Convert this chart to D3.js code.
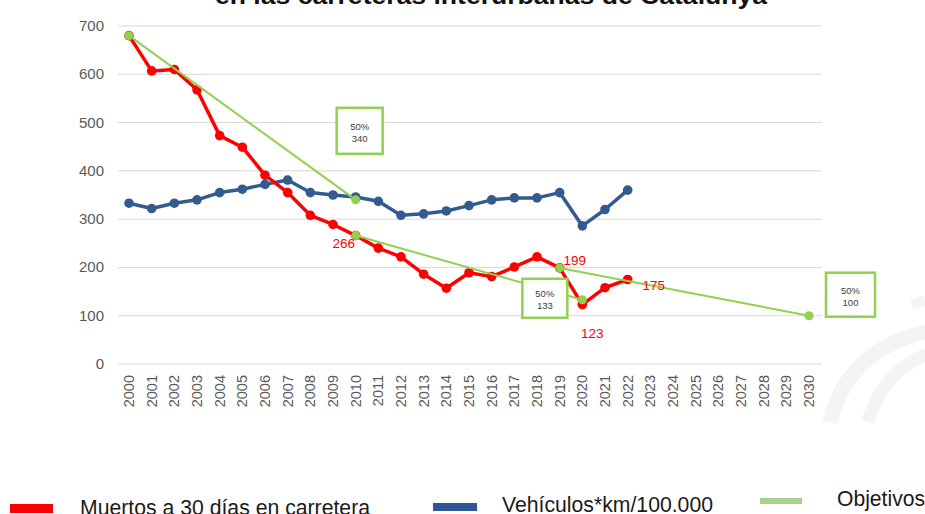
<!DOCTYPE html>
<html>
<head>
<meta charset="utf-8">
<script src="https://cdn.jsdelivr.net/npm/d3@7"></script>
<style>
  html, body { margin: 0; padding: 0; background: #fff; }
  svg { display: block; font-family: "Liberation Sans", Arial, sans-serif; }
</style>
</head>
<body>
<script>
// años del eje X
const years = ["2000","2001","2002","2003","2004","2005","2006","2007","2008","2009",
  "2010","2011","2012","2013","2014","2015","2016","2017","2018","2019",
  "2020","2021","2022","2023","2024","2025","2026","2027","2028","2029","2030"];
const yTicks = [0, 100, 200, 300, 400, 500, 600, 700];

// series (2000-2022)
const muertos = [680,607,610,568,473,449,391,355,308,289,266,240,222,186,157,189,181,201,222,199,123,158,175];
const vehiculos = [333,322,333,340,355,362,372,381,355,350,346,337,308,311,317,328,340,344,344,355,286,320,360];

// tramos de objetivos (año, valor)
const objetivos = [
  [["2000", 680], ["2010", 340]],
  [["2010", 266], ["2020", 133]],
  [["2019", 199], ["2030", 100]]
];
const cajas = [
  { year: "2010", value: 340, text: ["50%", "340"] },
  { year: "2020", value: 133, text: ["50%", "133"] },
  { year: "2030", value: 100, text: ["50%", "100"] }
];
const etiquetas = [
  { year: "2010", value: 266 },
  { year: "2019", value: 199 },
  { year: "2020", value: 123 },
  { year: "2022", value: 175 }
];
const leyenda = [
  { name: "Muertos a 30 días en carretera", color: "#ff0000" },
  { name: "Vehículos*km/100.000", color: "#2f5597" },
  { name: "Objetivos", color: "#a9d18e" }
];

const W = 925, H = 514;
const svg = d3.select("body").append("svg").attr("width", W).attr("height", H);

const x = d3.scalePoint().domain(years).range([129, 809]);
const y = d3.scaleLinear().domain([0, 700]).range([364, 26]);

// marca de agua
const wm = svg.append("g").attr("fill", "none").attr("stroke", "#f4f4f4");
wm.append("path").attr("stroke-width", 15)
  .attr("d", "M830,422 C842,372 878,340 935,330");
wm.append("path").attr("stroke-width", 13)
  .attr("d", "M868,422 C876,392 898,362 935,352");
wm.append("path").attr("stroke-width", 10)
  .attr("d", "M912,305 L925,300");

// título (cortado arriba)
svg.append("text")
  .attr("x", 491).attr("y", 4)
  .attr("text-anchor", "middle")
  .attr("font-size", 24).attr("font-weight", "bold").attr("fill", "#111")
  .attr("textLength", 552).attr("lengthAdjust", "spacingAndGlyphs")
  .text("en las carreteras interurbanas de Catalunya");

// rejilla
svg.append("g").selectAll("line").data(yTicks).join("line")
  .attr("x1", 118).attr("x2", 822)
  .attr("y1", d => y(d)).attr("y2", d => y(d))
  .attr("stroke", "#d9d9d9").attr("stroke-width", 1);

// eje Y
svg.append("g").selectAll("text").data(yTicks).join("text")
  .attr("x", 104).attr("y", d => y(d) + 5)
  .attr("text-anchor", "end").attr("font-size", 15).attr("fill", "#595959")
  .text(d => d);

// eje X
svg.append("g").selectAll("text").data(years).join("text")
  .attr("transform", d => `translate(${x(d) + 5},375) rotate(-90)`)
  .attr("text-anchor", "end").attr("font-size", 14.5).attr("fill", "#595959")
  .text(d => d);

const line = d3.line().x(d => x(d[0])).y(d => y(d[1]));

function serie(vals, color, w, r) {
  const pts = vals.map((v, i) => [years[i], v]);
  const g = svg.append("g");
  g.append("path").datum(pts).attr("d", line)
    .attr("fill", "none").attr("stroke", color).attr("stroke-width", w)
    .attr("stroke-linejoin", "round");
  g.selectAll("circle").data(pts).join("circle")
    .attr("cx", d => x(d[0])).attr("cy", d => y(d[1])).attr("r", r)
    .attr("fill", color);
}
serie(vehiculos, "#335b8f", 3.5, 4.8);
serie(muertos, "#ff0000", 3.5, 4.8);

// objetivos
const gObj = svg.append("g");
objetivos.forEach(seg => {
  gObj.append("path").datum(seg).attr("d", line)
    .attr("fill", "none").attr("stroke", "#92d050").attr("stroke-width", 2);
  gObj.selectAll(null).data(seg).join("circle")
    .attr("cx", d => x(d[0])).attr("cy", d => y(d[1])).attr("r", 4.5)
    .attr("fill", "#92d050");
});

// etiquetas rojas
const labOff = { "2010": [-12, 12], "2019": [15, -3], "2020": [10, 33], "2022": [26, 10] };
svg.append("g").selectAll("text").data(etiquetas).join("text")
  .attr("x", d => x(d.year) + labOff[d.year][0])
  .attr("y", d => y(d.value) + labOff[d.year][1])
  .attr("text-anchor", "middle").attr("font-size", 13.5).attr("fill", "#ff0000")
  .text(d => d.value);

// cajas de objetivos
const boxPos = { "2010": [-19, -92, 46, 46], "2020": [-60, -21, 45, 39], "2030": [17, -43, 49, 44] };
cajas.forEach(c => {
  const [dx, dy, bw, bh] = boxPos[c.year];
  const bx = x(c.year) + dx, by = y(c.value) + dy;
  const g = svg.append("g");
  g.append("rect").attr("x", bx).attr("y", by).attr("width", bw).attr("height", bh)
    .attr("fill", "#fff").attr("stroke", "#92d050").attr("stroke-width", 2.5);
  g.selectAll("text").data(c.text).join("text")
    .attr("x", bx + bw / 2).attr("y", (d, i) => by + bh / 2 - 1 + i * 12)
    .attr("text-anchor", "middle").attr("font-size", 9.5).attr("fill", "#404040")
    .text(d => d);
});

// leyenda
const legPos = [
  { rx: 10, ry: 504, rw: 43, rh: 9, tx: 80, ty: 515 },
  { rx: 433, ry: 503, rw: 44, rh: 8, tx: 502, ty: 512 },
  { rx: 760, ry: 498, rw: 42, rh: 6, tx: 837, ty: 506 }
];
const legW = [290, 211, 88];
leyenda.forEach((l, i) => {
  const p = legPos[i];
  svg.append("rect").attr("x", p.rx).attr("y", p.ry).attr("width", p.rw).attr("height", p.rh)
    .attr("fill", l.color);
  svg.append("text").attr("x", p.tx).attr("y", p.ty)
    .attr("font-size", 22).attr("fill", "#1a1a1a")
    .attr("textLength", legW[i]).attr("lengthAdjust", "spacingAndGlyphs")
    .text(l.name);
});
</script>
</body>
</html>
